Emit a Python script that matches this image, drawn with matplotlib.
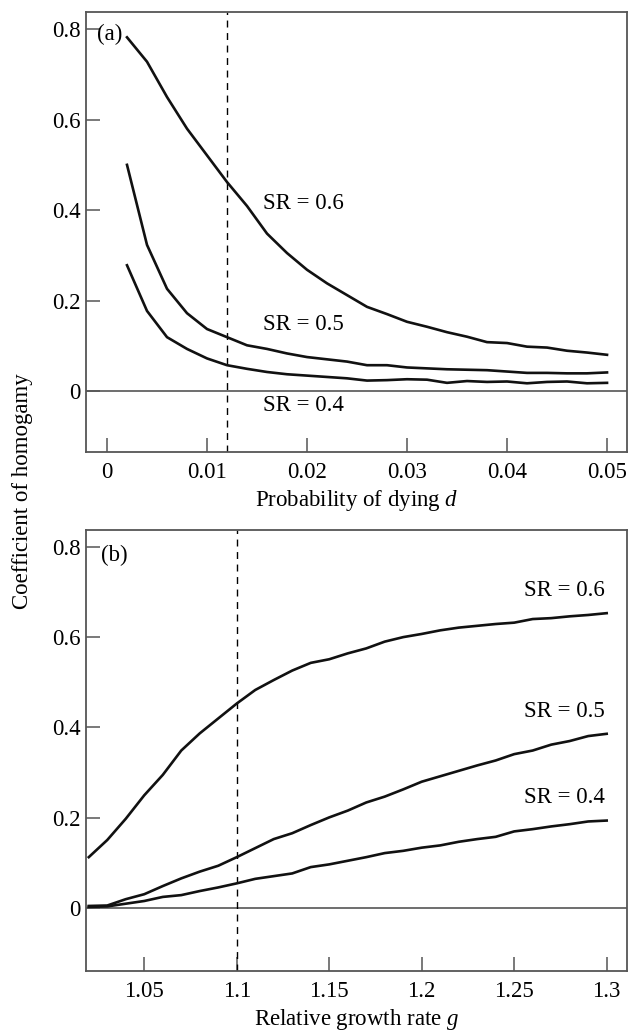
import numpy as np
import matplotlib
matplotlib.use("Agg")
import matplotlib.pyplot as plt

plt.rcParams['font.family'] = ['Liberation Serif', 'DejaVu Serif']
plt.rcParams['mathtext.fontset'] = 'custom'
plt.rcParams['mathtext.rm'] = 'Liberation Serif'
plt.rcParams['mathtext.it'] = 'Liberation Serif:italic'

# panel (a): probability of dying d
d = [0.002, 0.004, 0.006, 0.008, 0.010, 0.012, 0.014, 0.016, 0.018, 0.020,
     0.022, 0.024, 0.026, 0.028, 0.030, 0.032, 0.034, 0.036, 0.038, 0.040,
     0.042, 0.044, 0.046, 0.048, 0.050]
a_sr06 = [0.782, 0.728, 0.650, 0.580, 0.521, 0.462, 0.409, 0.348, 0.305, 0.268,
          0.238, 0.212, 0.186, 0.170, 0.153, 0.142, 0.130, 0.120, 0.108, 0.106,
          0.098, 0.096, 0.089, 0.085, 0.080]
a_sr05 = [0.500, 0.323, 0.226, 0.172, 0.137, 0.119, 0.101, 0.093, 0.083, 0.075,
          0.070, 0.065, 0.057, 0.057, 0.052, 0.050, 0.048, 0.047, 0.046, 0.043,
          0.040, 0.040, 0.039, 0.039, 0.041]
a_sr04 = [0.278, 0.177, 0.119, 0.093, 0.072, 0.057, 0.049, 0.042, 0.037, 0.034,
          0.031, 0.028, 0.023, 0.024, 0.026, 0.025, 0.018, 0.022, 0.020, 0.021,
          0.017, 0.020, 0.021, 0.017, 0.018]

# panel (b): relative growth rate g
g = [1.02, 1.03, 1.04, 1.05, 1.06, 1.07, 1.08, 1.09, 1.10, 1.11,
     1.12, 1.13, 1.14, 1.15, 1.16, 1.17, 1.18, 1.19, 1.20, 1.21,
     1.22, 1.23, 1.24, 1.25, 1.26, 1.27, 1.28, 1.29, 1.30]
b_sr06 = [0.113, 0.151, 0.198, 0.250, 0.295, 0.349, 0.387, 0.420, 0.453, 0.483,
          0.505, 0.526, 0.543, 0.551, 0.564, 0.575, 0.590, 0.600, 0.607, 0.615,
          0.621, 0.625, 0.629, 0.632, 0.640, 0.642, 0.646, 0.649, 0.653]
b_sr05 = [0.005, 0.006, 0.020, 0.031, 0.049, 0.066, 0.081, 0.094, 0.113, 0.133,
          0.153, 0.166, 0.184, 0.201, 0.216, 0.234, 0.247, 0.263, 0.280, 0.292,
          0.304, 0.316, 0.327, 0.341, 0.349, 0.362, 0.370, 0.381, 0.386]
b_sr04 = [0.003, 0.004, 0.010, 0.016, 0.025, 0.029, 0.038, 0.046, 0.055, 0.065,
          0.071, 0.077, 0.091, 0.097, 0.105, 0.113, 0.122, 0.127, 0.134, 0.139,
          0.147, 0.153, 0.158, 0.170, 0.175, 0.181, 0.186, 0.192, 0.194]

y_ticks = [0, 0.2, 0.4, 0.6, 0.8]
y_labels = ['0', '0.2', '0.4', '0.6', '0.8']
d_ticks = [0, 0.01, 0.02, 0.03, 0.04, 0.05]
d_labels = ['0', '0.01', '0.02', '0.03', '0.04', '0.05']
g_ticks = [1.05, 1.1, 1.15, 1.2, 1.25, 1.3]
g_labels = ['1.05', '1.1', '1.15', '1.2', '1.25', '1.3']

FS = 16.5
SPINE = '#555555'

fig = plt.figure(figsize=(6.38, 10.33), dpi=100)
ax1 = fig.add_axes([0.1348, 0.5624, 0.848, 0.426])
ax2 = fig.add_axes([0.1348, 0.0600, 0.848, 0.4269])


def style(ax):
    for s in ax.spines.values():
        s.set_color(SPINE)
        s.set_linewidth(1.3)
    ax.tick_params(direction='in', length=10, width=1.1, color=SPINE,
                   labelsize=FS, pad=4)
    ax.tick_params(axis='x', pad=7)
    ax.set_yticks(y_ticks)
    ax.set_yticklabels(y_labels)
    ax.axhline(0, color=SPINE, lw=1.2, zorder=1)


# ---- panel (a)
for yy in (a_sr06, a_sr05, a_sr04):
    ax1.plot(d, yy, color='#111111', lw=1.9, zorder=3)
ax1.axvline(0.012, color='black', lw=1.0, ls=(0, (5, 4)), zorder=2)
ax1.set_xlim(-0.0021, 0.0520)
ax1.set_ylim(-0.135, 0.838)
style(ax1)
ax1.set_xticks(d_ticks)
ax1.set_xticklabels(d_labels)
ax1.set_xlabel('Probability of dying $d$', fontsize=FS, labelpad=4)
ax1.text(0.0156, 0.415, 'SR = 0.6', fontsize=FS, va='center')
ax1.text(0.0156, 0.148, 'SR = 0.5', fontsize=FS, va='center')
ax1.text(0.0156, -0.033, 'SR = 0.4', fontsize=FS, va='center')
ax1.text(0.021, 0.95, '(a)', transform=ax1.transAxes, fontsize=FS, va='center')

# ---- panel (b)
for yy in (b_sr06, b_sr05, b_sr04):
    ax2.plot(g, yy, color='#111111', lw=1.9, zorder=3)
ax2.axvline(1.1, color='black', lw=1.0, ls=(0, (5, 4)), zorder=2)
ax2.set_xlim(1.0185, 1.311)
ax2.set_ylim(-0.139, 0.837)
style(ax2)
ax2.set_xticks(g_ticks)
ax2.set_xticklabels(g_labels)
ax2.set_xlabel('Relative growth rate $g$', fontsize=FS, labelpad=4)
ax2.text(1.299, 0.703, 'SR = 0.6', fontsize=FS, va='center', ha='right')
ax2.text(1.299, 0.435, 'SR = 0.5', fontsize=FS, va='center', ha='right')
ax2.text(1.299, 0.246, 'SR = 0.4', fontsize=FS, va='center', ha='right')
ax2.text(0.027, 0.943, '(b)', transform=ax2.transAxes, fontsize=FS, va='center')

fig.text(23 / 638, 1 - 491.5 / 1033, 'Coefficient of homogamy', rotation=90,
         fontsize=FS, ha='center', va='center')

fig.savefig('out.png', dpi=100)
